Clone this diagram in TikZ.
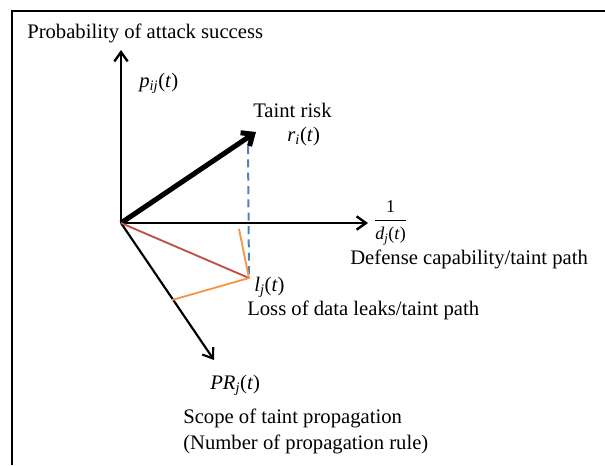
\documentclass[tikz,border=0pt]{standalone}
\usepackage{amsmath}
\usepackage{fontspec}
\setmainfont{Liberation Serif}
\usetikzlibrary{arrows.meta}
\usetikzlibrary{positioning}
\definecolor{riskblue}{RGB}{79,129,189}
\definecolor{lossred}{RGB}{192,80,77}
\definecolor{lossorange}{RGB}{247,150,70}
\newcommand{\fn}[2]{\textit{#1}\textsubscript{\textit{#2}}(\textit{t})}
\tikzset{
  axisline/.style={line width=1.8pt,-{Straight Barb[length=7pt,width=10pt]}},
  risk/.style={line width=3.8pt,-{Straight Barb[length=7pt,width=12pt]}},
  lbl/.style={inner sep=0pt,anchor=west,font=\fontsize{15.5}{19}\selectfont},
}

\begin{document}
\begin{tikzpicture}[x=0.75pt,y=-0.75pt]
                    \useasboundingbox(0,0)rectangle(605,465);
                    \draw[line width=1.5pt](12,465)--(12,11)--(605,11);

                    \coordinate(O)at(121,223);
                    \coordinate(P)at(121,50);
                    \coordinate(D)at(368,223);
                    \coordinate(R)at(256,132);
                    \coordinate(S)at(214,360);
                    \coordinate(L)at(249,278);
                    \coordinate(T)at(248,146);
                    \coordinate(Lx)at(239,229);
                    \coordinate(Ly)at(172,300);

                    \draw[axisline](O)--(P);
                    \draw[axisline](O)--(D);
                    \draw[axisline,line width=1.6pt](O)--(S);
                    \draw[risk](O)--(R);
                    \draw[riskblue,line width=1.5pt,dash pattern=on 6pt off 4pt](T)--(L);
                    \draw[lossred,line width=1.4pt](O)--(L);
                    \draw[lossorange,line width=1.4pt](Lx)--(L)--(Ly);

                    \node[lbl](prob)at(27,33){Probability of attack success};
                    \node[lbl](pij)at(139,83){\fn{p}{ij}};
                    \node[lbl](taint)at(253,110){Taint risk};
                    \node[lbl](ri)at(287,137){\fn{r}{i}};
                    \node[lbl,font=\fontsize{13.5}{15}\selectfont](dj)at(375,222){\begin{tabular}{@{}c@{}}1\\[1pt]\hline\rule{0pt}{14pt}\fn{d}{j}\end{tabular}};
                    \node[lbl](defense)at(350,259){Defense capability/taint path};
                    \node[lbl](lj)at(254,287){\fn{l}{j}};
                    \node[lbl](loss)at(247,310){Loss of data leaks/taint path};
                    \node[lbl](prj)at(210,385){\textit{PR}\textsubscript{\textit{j}}(\textit{t})};
                    \node[lbl,anchor=north west,align=left](scope)at(183,409){Scope of taint propagation\\(Number of propagation rule)};
                \end{tikzpicture}
\end{document}
